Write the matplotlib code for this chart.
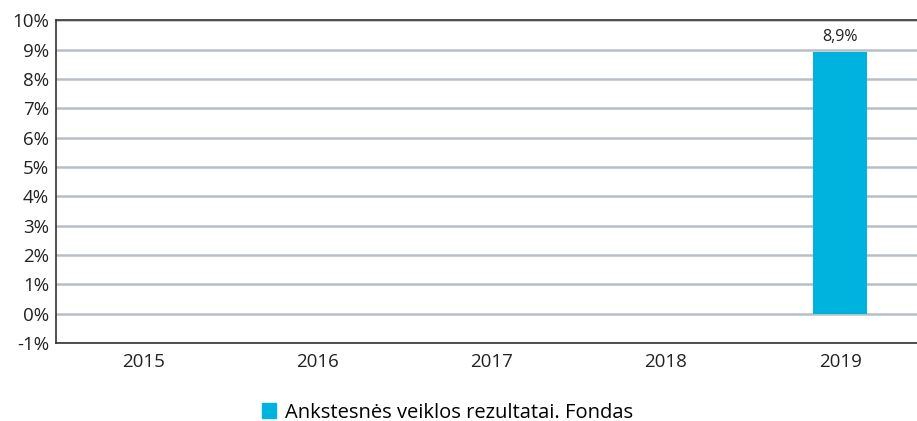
import matplotlib.pyplot as plt
from matplotlib.patches import Patch
from matplotlib.ticker import FuncFormatter

years = ['2015', '2016', '2017', '2018', '2019']
fund = [None, None, None, None, 8.9]
series_name = 'Ankstesnės veiklos rezultatai. Fondas'

plt.rcParams['font.family'] = ['Open Sans', 'DejaVu Sans']

fig = plt.figure(figsize=(9.17, 4.21), dpi=100)
ax = fig.add_axes([0.061, 0.185, 0.939, 0.767])

blue = '#00b2de'
xs = [i for i, v in enumerate(fund) if v is not None]
vals = [v for v in fund if v is not None]
bars = ax.bar(xs, vals, width=0.31, color=blue, zorder=3)
for b, v in zip(bars, vals):
    ax.text(b.get_x() + b.get_width() / 2, v + 0.25, f'{v:.1f}%'.replace('.', ','),
            ha='center', va='bottom', fontsize=11.5, color='#222222')

ax.set_ylim(-1, 10)
ax.set_yticks(range(-1, 11))
ax.yaxis.set_major_formatter(FuncFormatter(lambda v, p: f'{int(v)}%'))
ax.set_xticks(range(len(years)))
ax.set_xticklabels(years)
ax.set_xlim(-0.5, 4.44)

ax.grid(axis='y', color='#b7bec6', linewidth=1.8, zorder=0)
for side in ['left', 'bottom', 'top']:
    ax.spines[side].set_color('#333333')
    ax.spines[side].set_linewidth(1.2)
ax.spines['right'].set_visible(False)
ax.tick_params(axis='both', length=0, labelsize=13.5, colors='#222222')
ax.tick_params(axis='x', pad=7)
ax.tick_params(axis='y', pad=5)

fig.legend(handles=[Patch(color=blue)], labels=[series_name], loc='center left',
           bbox_to_anchor=(0.286, 0.02), frameon=False, fontsize=14.5,
           handlelength=0.7, handleheight=0.7, handletextpad=0.45,
           borderpad=0, borderaxespad=0)

fig.savefig('out.png', dpi=100)
